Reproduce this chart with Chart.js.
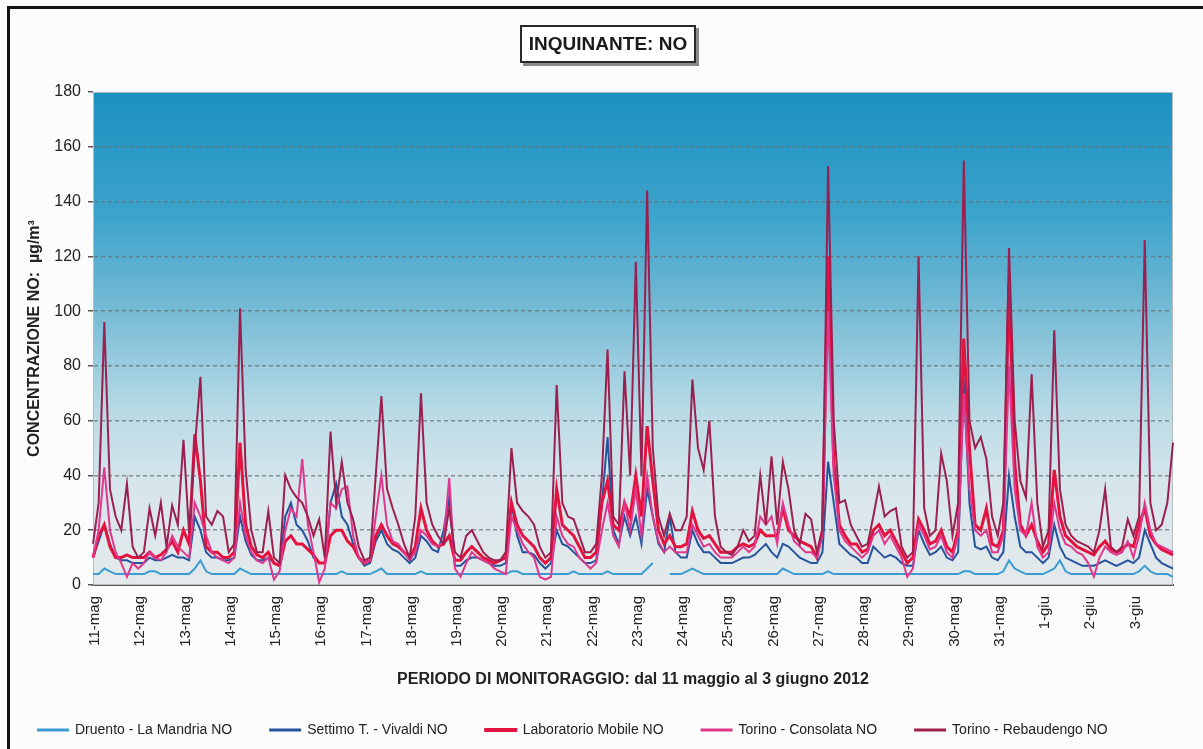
<!DOCTYPE html>
<html>
<head>
<meta charset="utf-8">
<title>Inquinante NO</title>
<script src="https://cdn.jsdelivr.net/npm/chart.js@4.4.1/dist/chart.umd.min.js"></script>
<style>
  html, body { margin: 0; padding: 0; background: #fcfcfc; }
  #wrap { position: relative; width: 1203px; height: 749px; overflow: hidden; }
  #frame { position: absolute; left: 7px; top: 6px; right: -10px; bottom: -10px; border-left: 3px solid #141414; border-top: 3px solid #141414; }
  #title { position: absolute; left: 520px; top: 25px; width: 172px; height: 34px; border: 2px solid #2a2a2a; box-shadow: 3px 3px 0 #8a8a8a; background: #fff;
           font: bold 19px "Liberation Sans", Arial, sans-serif; color: #1a1a1a; text-align: center; line-height: 34px; }
  canvas { position: absolute; left: 0; top: 0; }
</style>
</head>
<body>
<div id="wrap">
  <div id="frame"></div>
  <canvas id="no-chart" width="1203" height="749"></canvas>
  <div id="title">INQUINANTE: NO</div>
</div>
<script>
// one value every 3 hours, 11 May - 3 June 2012
const days = ['11-mag','12-mag','13-mag','14-mag','15-mag','16-mag','17-mag','18-mag','19-mag','20-mag',
  '21-mag','22-mag','23-mag','24-mag','25-mag','26-mag','27-mag','28-mag','29-mag','30-mag','31-mag',
  '1-giu','2-giu','3-giu'];
const hours = [0, 3, 6, 9, 12, 15, 18, 21];

const druento = [
  4,4,6,5,4,4,4,4, 4,4,5,5,4,4,4,4,
  4,4,6,9,5,4,4,4, 4,4,6,5,4,4,4,4,
  4,4,4,4,4,4,4,4, 4,4,4,4,5,4,4,4,
  4,4,5,6,4,4,4,4, 4,4,5,4,4,4,4,4,
  4,4,4,4,4,4,4,4, 4,4,5,5,4,4,4,4,
  4,4,4,4,4,5,4,4, 4,4,4,5,4,4,4,4,
  4,4,6,8,null,null,4,4, 4,5,6,5,4,4,4,4,
  4,4,4,4,4,4,4,4, 4,4,6,5,4,4,4,4,
  4,4,5,4,4,4,4,4, 4,4,4,4,4,4,4,4,
  4,4,4,4,4,4,4,4, 4,4,5,5,4,4,4,4,
  4,5,9,6,5,4,4,4, 4,5,6,9,5,4,4,4,
  4,4,4,4,4,4,4,4, 4,5,7,5,4,4,4,3
];
const settimo = [
  10,16,22,15,10,9,9,8, 8,8,10,9,9,10,11,10,
  10,9,25,20,12,10,10,9, 9,10,25,16,11,9,9,10,
  8,7,25,30,22,20,16,10, 8,8,30,37,25,22,15,10,
  7,8,16,20,15,13,12,10, 8,10,18,16,13,12,20,32,
  7,7,9,10,10,9,8,7, 7,8,30,18,12,12,11,8,
  6,8,20,15,14,12,10,8, 8,9,30,54,20,15,25,18,
  25,15,35,25,15,12,25,12, 10,10,20,15,12,12,10,8,
  8,8,9,10,10,11,13,15, 12,10,15,14,12,10,9,8,
  8,12,45,30,15,13,11,10, 8,8,14,12,10,11,10,8,
  7,7,20,15,11,12,14,10, 9,12,75,30,14,13,14,10,
  9,12,40,25,14,12,12,10, 8,10,22,14,10,9,8,7,
  7,7,8,9,8,7,8,9, 8,10,20,15,10,8,7,6
];
const labMobile = [
  10,18,22,14,10,10,11,10, 10,10,12,10,11,13,16,12,
  20,15,55,38,14,12,12,10, 10,12,52,22,14,11,10,12,
  8,7,16,18,15,15,13,11, 8,8,18,20,20,16,14,10,
  8,9,18,22,18,15,14,12, 10,14,28,20,16,14,15,18,
  9,9,12,14,12,10,9,8, 9,10,30,22,18,16,14,10,
  8,10,35,22,20,18,14,10, 10,12,30,38,22,20,30,25,
  40,25,58,38,20,15,18,14, 14,15,27,20,17,18,15,12,
  12,12,14,15,14,15,20,18, 18,18,28,20,18,16,15,14,
  10,20,120,45,22,18,15,15, 12,13,20,22,18,20,16,12,
  8,10,24,20,15,16,20,14, 12,20,90,50,22,20,28,15,
  14,20,110,45,22,18,22,16, 12,15,42,25,18,16,14,13,
  12,11,14,16,13,12,13,15, 14,22,28,18,15,13,12,11
];
const consolata = [
  10,20,43,20,12,8,3,8, 6,8,12,10,9,12,18,14,
  12,10,30,25,18,12,10,9, 8,10,30,18,12,9,8,10,
  2,5,20,28,25,46,22,12, 1,6,30,28,35,36,18,10,
  8,9,25,40,22,16,15,12, 9,12,20,18,15,14,16,39,
  6,3,8,12,10,9,8,6, 5,4,25,20,15,12,10,3,
  2,3,25,18,15,14,10,8, 6,8,20,30,18,14,30,20,
  35,18,40,25,16,12,14,12, 12,12,22,18,14,15,12,10,
  10,10,12,14,12,14,25,22, 25,15,30,22,16,14,12,12,
  10,18,100,40,20,16,14,12, 10,12,18,20,15,18,14,10,
  3,6,22,18,13,14,18,12, 10,18,70,35,20,18,20,12,
  12,18,80,35,20,18,30,14, 10,12,30,20,15,14,12,11,
  8,3,10,14,12,11,12,16, 10,18,30,20,15,14,13,12
];
const rebaudengo = [
  15,30,96,35,25,20,37,14, 10,12,28,18,30,14,29,22,
  53,19,50,76,25,22,27,25, 12,15,101,42,20,12,12,27,
  10,8,40,35,32,30,25,18, 24,10,56,30,45,30,24,14,
  9,10,40,69,35,28,22,15, 10,25,70,30,22,18,15,28,
  12,10,18,20,16,12,10,9, 9,12,50,30,27,25,22,14,
  10,12,73,30,25,24,18,12, 12,15,40,86,25,22,78,40,
  118,40,144,50,25,18,26,20, 20,25,75,50,42,60,25,14,
  12,11,14,20,16,18,40,22, 47,22,45,35,20,15,26,24,
  12,20,153,60,30,31,22,18, 14,15,25,36,25,27,28,14,
  10,12,120,28,18,20,48,38, 18,30,155,60,50,54,46,25,
  18,30,123,60,38,32,77,30, 14,20,93,35,22,18,16,15,
  14,12,20,35,14,12,14,24, 18,25,126,30,20,22,30,52
];

const labels = [];
days.forEach(d => hours.forEach(h => labels.push(d + ' ' + h + ':00')));

// gradient behind the plot + thin frame round it
const plotBackground = {
  id: 'plotBackground',
  beforeDraw(chart) {
    const {ctx, chartArea: a} = chart;
    const g = ctx.createLinearGradient(0, a.top, 0, a.bottom);
    g.addColorStop(0, '#1b91c0');
    g.addColorStop(0.25, '#3ca3cc');
    g.addColorStop(0.45, '#78bcd5');
    g.addColorStop(0.65, '#b9dbe6');
    g.addColorStop(0.8, '#d7e6ec');
    g.addColorStop(1, '#e4e9eb');
    ctx.save();
    ctx.fillStyle = g;
    ctx.fillRect(a.left, a.top, a.right - a.left, a.bottom - a.top);
    ctx.restore();
  },
  beforeDatasetsDraw(chart) {
    const {ctx, chartArea: a} = chart;
    ctx.save();
    ctx.strokeStyle = '#b4bcc0';
    ctx.lineWidth = 1;
    ctx.strokeRect(a.left + 0.5, a.top + 0.5, a.right - a.left - 1, a.bottom - a.top - 1);
    ctx.restore();
  }
};

Chart.defaults.font.family = '"Liberation Sans", Arial, sans-serif';
Chart.defaults.color = '#222';

const line = (label, data, color, width, order) => ({
  label, data, order,
  borderColor: color, backgroundColor: color, borderWidth: width,
  pointRadius: 0, tension: 0, fill: false, spanGaps: false
});

new Chart(document.getElementById('no-chart'), {
  type: 'line',
  data: {
    labels: labels,
    datasets: [
      line('Druento - La Mandria NO', druento, '#3b9bd3', 2, 5),
      line('Settimo T. - Vivaldi NO', settimo, '#25539c', 2, 4),
      line('Laboratorio Mobile NO', labMobile, '#e3123f', 3, 3),
      line('Torino - Consolata NO', consolata, '#e0378e', 2, 2),
      line('Torino - Rebaudengo NO', rebaudengo, '#9b1f4f', 2, 1)
    ]
  },
  options: {
    responsive: false,
    animation: false,
    layout: { padding: { left: 0, right: 30, top: 92, bottom: 2 } },
    plugins: {
      tooltip: { enabled: false },
      legend: {
        position: 'bottom',
        align: 'start',
        labels: {
          boxWidth: 30, boxHeight: 1, padding: 38,
          font: { size: 14 }, color: '#222',
          sort: (a, b) => a.datasetIndex - b.datasetIndex
        }
      }
    },
    scales: {
      x: {
        type: 'category',
        offset: false,
        grid: { display: false, drawTicks: false },
        border: { display: true, color: '#5a5a5a', width: 2 },
        ticks: {
          autoSkip: false, minRotation: 90, maxRotation: 90,
          padding: 11, labelOffset: 2, font: { size: 15 },
          callback: (v, i) => i % hours.length === 0 ? days[i / hours.length] : ''
        },
        title: {
          display: true,
          text: 'PERIODO DI MONITORAGGIO: dal 11 maggio al 3 giugno 2012',
          font: { size: 16, weight: 'bold' },
          padding: { top: 0, bottom: -4 }
        },
        afterFit(scale) { scale.height = 100; }
      },
      y: {
        min: 0, max: 180,
        ticks: { stepSize: 20, padding: 7, font: { size: 16 } },
        grid: {
          color: c => (c.tick && (c.tick.value === 0 || c.tick.value === 180)) ? 'rgba(0,0,0,0)' : 'rgba(105,115,120,0.75)',
          lineWidth: 1.5, tickLength: 5, tickColor: '#555', tickWidth: 1.5
        },
        border: { display: true, color: '#8f999e', width: 1, dash: [4, 3] },
        title: {
          display: true,
          text: 'CONCENTRAZIONE NO:  µg/m³',
          font: { size: 16, weight: 'bold' },
          padding: { top: 25, bottom: 0 }
        },
        afterFit(scale) { scale.width = 93; }
      }
    }
  },
  plugins: [plotBackground]
});
</script>
</body>
</html>
